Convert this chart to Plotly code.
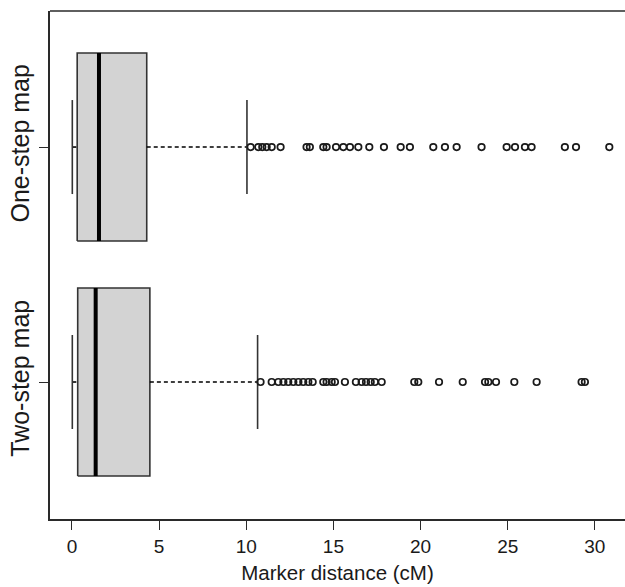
import plotly.graph_objects as go

categories = ["Two-step map", "One-step map"]
positions = [1, 2]
q1 = [0.33, 0.30]
median = [1.36, 1.55]
q3 = [4.47, 4.29]
lower_whisker = [0.02, 0.02]
upper_whisker = [10.65, 10.04]

outliers_two = [10.82, 11.46, 11.84, 12.13, 12.41, 12.70, 12.99, 13.27, 13.56, 13.81,
                14.42, 14.61, 14.90, 15.09, 15.66, 16.29, 16.62, 16.87, 17.14, 17.38,
                17.77, 19.64, 19.87, 21.06, 22.42, 23.70, 23.89, 24.33, 25.38, 26.66,
                29.24, 29.43]
outliers_one = [10.25, 10.69, 10.92, 11.17, 11.46, 11.97, 13.46, 13.65, 14.42, 14.61,
                15.15, 15.57, 15.95, 16.43, 17.06, 17.90, 18.86, 19.39, 20.73, 21.40,
                22.07, 23.50, 24.94, 25.42, 25.99, 26.37, 28.28, 28.92, 30.83]
outliers = [outliers_two, outliers_one]

x_ticks = [0, 5, 10, 15, 20, 25, 30]

BOX_HALF = 0.4
STAPLE_HALF = 0.2

fig = go.Figure()
for i, c in enumerate(positions):
    fig.add_trace(go.Scatter(
        x=[q1[i], q3[i], q3[i], q1[i], q1[i]],
        y=[c - BOX_HALF, c - BOX_HALF, c + BOX_HALF, c + BOX_HALF, c - BOX_HALF],
        mode="lines", fill="toself", fillcolor="#d3d3d3",
        line=dict(color="#333333", width=1.6), hoverinfo="skip", showlegend=False))
    fig.add_trace(go.Scatter(
        x=[median[i], median[i]], y=[c - BOX_HALF, c + BOX_HALF],
        mode="lines", line=dict(color="black", width=4), showlegend=False))
    fig.add_trace(go.Scatter(
        x=[q3[i], upper_whisker[i]], y=[c, c],
        mode="lines", line=dict(color="black", width=1.6, dash="4px,3px"), showlegend=False))
    fig.add_trace(go.Scatter(
        x=[lower_whisker[i], q1[i]], y=[c, c],
        mode="lines", line=dict(color="black", width=1.6, dash="4px,3px"), showlegend=False))
    for v in (lower_whisker[i], upper_whisker[i]):
        fig.add_trace(go.Scatter(
            x=[v, v], y=[c - STAPLE_HALF, c + STAPLE_HALF],
            mode="lines", line=dict(color="#333333", width=1.6), showlegend=False))
    fig.add_trace(go.Scatter(
        x=outliers[i], y=[c] * len(outliers[i]), mode="markers",
        marker=dict(symbol="circle-open", size=6.5, color="#1a1a1a", line=dict(width=1.7)),
        cliponaxis=False, showlegend=False))

# top frame line (no right-hand border, as in the reference crop)
fig.add_shape(type="line", xref="paper", yref="paper", x0=0, x1=1, y0=1, y1=1,
              line=dict(color="#2a2a2a", width=1.5))

font_family = "Liberation Sans, Arial, sans-serif"
fig.update_layout(
    width=625, height=587,
    margin=dict(l=50, r=0, t=11, b=68),
    plot_bgcolor="white", paper_bgcolor="white",
    font=dict(family=font_family, color="#1a1a1a"),
    xaxis=dict(
        range=[-1.26, 31.73], tickvals=x_ticks, ticktext=[str(t) for t in x_ticks],
        showgrid=False, zeroline=False, showline=True, mirror=False,
        linecolor="#2a2a2a", linewidth=1.5, automargin=False,
        ticks="outside", ticklen=9, tickwidth=1.3, tickcolor="#2a2a2a",
        tickfont=dict(size=19),
        title=dict(text="Marker distance (cM)", font=dict(size=20.5), standoff=10)),
    yaxis=dict(
        range=[0.417, 2.579], tickvals=positions, ticktext=categories,
        tickangle=-90, showgrid=False, zeroline=False, showline=True, mirror=False,
        linecolor="#2a2a2a", linewidth=1.5, automargin=False,
        ticks="outside", ticklen=9, tickwidth=1.3, tickcolor="#2a2a2a",
        tickfont=dict(size=25)),
)

fig.write_html(
    "out.html",
    config={"displayModeBar": False},
    post_script="document.body.style.margin='0px';document.body.style.overflow='hidden';",
)
